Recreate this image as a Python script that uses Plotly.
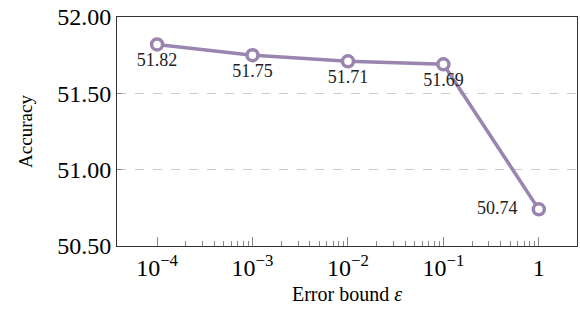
import plotly.graph_objects as go

eps = [1e-4, 1e-3, 1e-2, 1e-1, 1]
acc = [51.82, 51.75, 51.71, 51.69, 50.74]
labels = ["51.82", "51.75", "51.71", "51.69", "50.74"]
label_pos = ["bottom center", "bottom center", "bottom center", "bottom center", "middle left"]
xtick_vals = [1e-4, 1e-3, 1e-2, 1e-1, 1]
xtick_text = ["10<sup>−4</sup>", "10<sup>−3</sup>", "10<sup>−2</sup>", "10<sup>−1</sup>", "1"]
minor_vals = [k * d for d in [1e-4, 1e-3, 1e-2, 1e-1] for k in range(2, 10)]
ytick_vals = [50.5, 51.0, 51.5, 52.0]
ytick_text = ["50.50", "51.00", "51.50", "52.00"]

color = "#9a84b0"
font = "Liberation Serif"

shown = [t + ("   " if p == "middle left" else "") for t, p in zip(labels, label_pos)]

fig = go.Figure()
fig.add_trace(go.Scatter(
    x=eps, y=acc, mode="lines+markers+text",
    text=shown, textposition=label_pos,
    textfont=dict(family=font, size=18, color="#222"),
    line=dict(color=color, width=3.5),
    marker=dict(symbol="circle", size=11, color="white", line=dict(color=color, width=3.5)),
    cliponaxis=False,
))

fig.update_layout(
    width=580, height=312,
    margin=dict(l=117, r=3, t=17, b=66),
    paper_bgcolor="white", plot_bgcolor="white",
    showlegend=False,
    font=dict(family=font, color="black"),
)
fig.update_xaxes(
    type="log", range=[-4.42, 0.40],
    tickvals=xtick_vals, ticktext=xtick_text,
    tickfont=dict(family=font, size=24),
    ticks="inside", ticklen=9, tickcolor="#888", tickwidth=1,
    minor=dict(tickmode="array", tickvals=minor_vals, ticks="inside", ticklen=5,
               tickcolor="#888", tickwidth=1, showgrid=False),
    showgrid=False, zeroline=False,
    showline=True, linecolor="#333", linewidth=1, mirror=True,
    title=dict(text="Error bound <i>ε</i>", font=dict(family=font, size=20), standoff=7),
)
fig.update_yaxes(
    range=[50.5, 52.0],
    tickvals=ytick_vals, ticktext=ytick_text,
    tickfont=dict(family=font, size=24),
    ticks="inside", ticklen=5, tickcolor="#888",
    showgrid=True, gridcolor="#cccccc", griddash="dash", gridwidth=1,
    zeroline=False,
    showline=True, linecolor="#333", linewidth=1, mirror=True,
    title=dict(text="Accuracy", font=dict(family=font, size=19), standoff=19),
)

fig.write_html("out.html", config={"displayModeBar": False},
               post_script="document.body.style.margin='0';")
